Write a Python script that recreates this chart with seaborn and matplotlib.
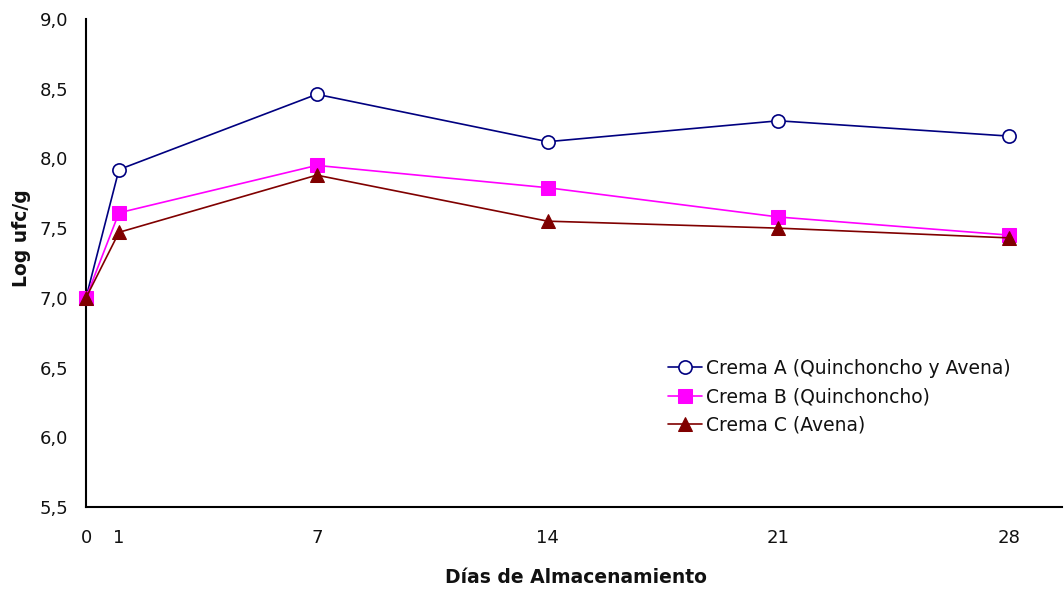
import matplotlib
matplotlib.use("Agg")
import matplotlib.pyplot as plt
import matplotlib.ticker as mticker
import seaborn as sns
import pandas as pd

# Storage days and log counts (Log ufc/g) for each cream
dias = [0, 1, 7, 14, 21, 28]
crema_a = [7.00, 7.92, 8.46, 8.12, 8.27, 8.16]
crema_b = [7.00, 7.61, 7.95, 7.79, 7.58, 7.45]
crema_c = [7.00, 7.47, 7.88, 7.55, 7.50, 7.43]

nombres = ["Crema A (Quinchoncho y Avena)", "Crema B (Quinchoncho)", "Crema C (Avena)"]
colores = ["#000080", "#FF00FF", "#800000"]
y_ticks = [5.5, 6.0, 6.5, 7.0, 7.5, 8.0, 8.5, 9.0]

sns.set_theme(style="white")
plt.rcParams["font.family"] = ["DejaVu Sans"]

fig = plt.figure(figsize=(10.64, 5.91), dpi=100)
ax = fig.add_axes([86 / 1064, 84 / 591, 976 / 1064, 488 / 591])

estilos = [
    dict(marker="o", markersize=9.5, markerfacecolor="white", markeredgecolor=colores[0],
         markeredgewidth=1.2),
    dict(marker="s", markersize=10.5, markerfacecolor=colores[1], markeredgecolor=colores[1]),
    dict(marker="^", markersize=10.5, markerfacecolor=colores[2], markeredgecolor=colores[2]),
]

for serie, nombre, color, est in zip([crema_a, crema_b, crema_c], nombres, colores, estilos):
    df = pd.DataFrame({"dia": dias, "valor": serie})
    sns.lineplot(data=df, x="dia", y="valor", ax=ax, color=color, linewidth=1.2,
                 label=nombre, clip_on=False, zorder=3, **est)

ax.set_xlim(0, 29.6)
ax.set_ylim(5.5, 9.0)
ax.set_xticks(dias)
ax.set_xticklabels([str(d) for d in dias])
ax.set_yticks(y_ticks)
ax.yaxis.set_major_formatter(mticker.FuncFormatter(lambda v, p: f"{v:.1f}".replace(".", ",")))

for lado in ["top", "right"]:
    ax.spines[lado].set_visible(False)
for lado in ["left", "bottom"]:
    ax.spines[lado].set_color("black")
    ax.spines[lado].set_linewidth(1.5)

ax.tick_params(axis="both", direction="out", length=5, width=1.3, color="black",
               labelsize=13, labelcolor="#111111")
ax.tick_params(axis="x", pad=11)
ax.tick_params(axis="y", pad=8)
ax.grid(False)

ax.set_xlabel("Días de Almacenamiento", fontsize=13.5, fontweight="bold", color="#111111")
ax.set_ylabel("Log ufc/g", fontsize=13.5, fontweight="bold", color="#111111")
ax.xaxis.set_label_coords(0.502, -0.126)
ax.yaxis.set_label_coords(-0.056, 0.551)

leg = ax.legend(loc="upper left", bbox_to_anchor=(668 / 1064, (591 - 359) / 591),
                bbox_transform=fig.transFigure, frameon=False, fontsize=13.5,
                handlelength=1.8, handletextpad=0.25, labelspacing=0.5,
                borderpad=0, borderaxespad=0)
for t in leg.get_texts():
    t.set_color("#111111")

fig.savefig("out.png", dpi=100)
